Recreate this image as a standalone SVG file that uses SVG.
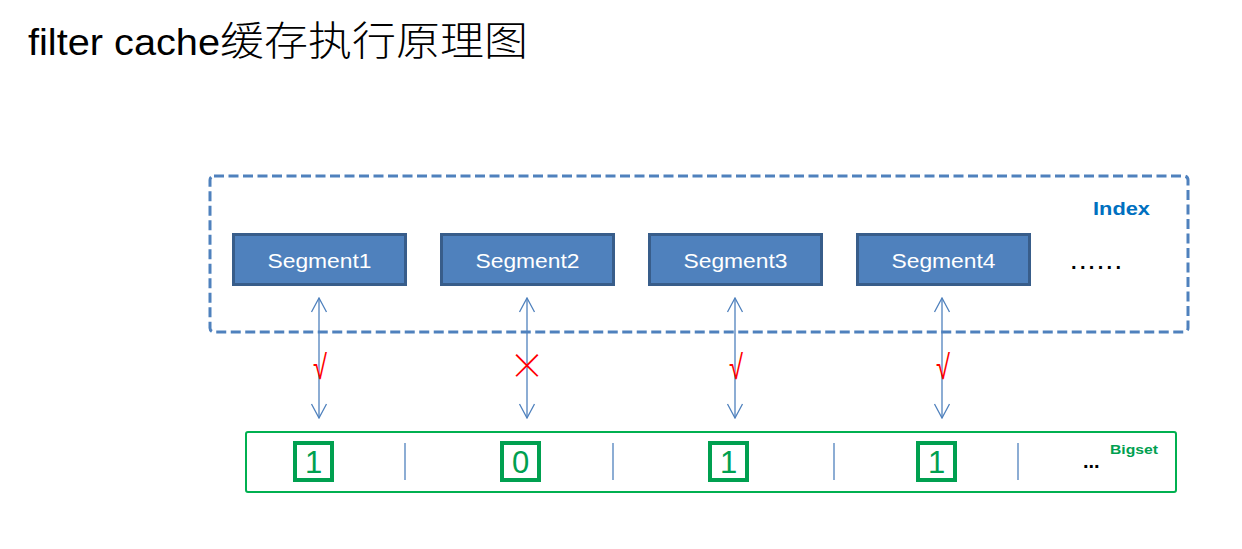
<svg xmlns="http://www.w3.org/2000/svg" width="1242" height="549" viewBox="0 0 1242 549">
<style>
.seg rect{fill:#4f81bd;stroke:#385d8a;stroke-width:3}
.seg text{fill:#fff;font-family:"Liberation Sans",Arial,sans-serif;font-size:20px;text-anchor:middle}
.bit rect{fill:#fff;stroke:#00a050;stroke-width:4}
.bit text{fill:#00a050;font-family:"Liberation Sans",Arial,sans-serif;font-size:31px;text-anchor:middle}
.conn line{stroke:#4f81bd;stroke-width:1.3}
.mark{fill:#ff0000;font-family:"Noto Sans CJK SC","Liberation Sans",sans-serif;text-anchor:middle}
.chk{fill:#ff0000;font-family:"Liberation Sans",Arial,sans-serif;font-size:34px;text-anchor:middle}
.div{stroke:#4f81bd;stroke-width:1.3}
</style>
<defs>
<marker id="ah" viewBox="-15 -9 16 18" refX="0" refY="0" markerWidth="16" markerHeight="18" markerUnits="userSpaceOnUse" orient="auto-start-reverse">
<path d="M-14,-7.5 L0,0 L-14,7.5" fill="none" stroke="#4f81bd" stroke-width="1.3"/>
</marker>
</defs>
<rect width="1242" height="549" fill="#fff"/>
<text id="title" x="28" y="55" font-size="40" fill="#000"><tspan font-family="Liberation Sans,Arial,sans-serif" font-size="37" textLength="192" lengthAdjust="spacingAndGlyphs">filter cache</tspan><tspan font-family="Noto Sans CJK SC,sans-serif" font-size="40" font-weight="300" textLength="308" lengthAdjust="spacingAndGlyphs">缓存执行原理图</tspan></text>
<g id="index">
<rect x="210" y="176" width="978" height="156" rx="4" fill="none" stroke="#4f81bd" stroke-width="3" stroke-dasharray="10 4.5"/>
<text x="1093" y="215" font-family="Liberation Sans,Arial,sans-serif" font-size="19" font-weight="bold" fill="#0070c0" textLength="57" lengthAdjust="spacingAndGlyphs">Index</text>
<text x="1071" y="269" font-family="Liberation Sans,Arial,sans-serif" font-size="20" font-weight="bold" fill="#000" textLength="50" lengthAdjust="spacing">......</text>
</g>
<g id="segment1" class="seg"><rect x="233.5" y="234.5" width="172" height="50"/><text x="319.5" y="268" textLength="104" lengthAdjust="spacingAndGlyphs">Segment1</text></g>
<g id="segment2" class="seg"><rect x="441.5" y="234.5" width="172" height="50"/><text x="527.5" y="268" textLength="104" lengthAdjust="spacingAndGlyphs">Segment2</text></g>
<g id="segment3" class="seg"><rect x="649.5" y="234.5" width="172" height="50"/><text x="735.5" y="268" textLength="104" lengthAdjust="spacingAndGlyphs">Segment3</text></g>
<g id="segment4" class="seg"><rect x="857.5" y="234.5" width="172" height="50"/><text x="943.5" y="268" textLength="104" lengthAdjust="spacingAndGlyphs">Segment4</text></g>
<g id="connectors" class="conn">
<line x1="319" y1="298" x2="319" y2="418" marker-start="url(#ah)" marker-end="url(#ah)"/>
<line x1="527" y1="298" x2="527" y2="418" marker-start="url(#ah)" marker-end="url(#ah)"/>
<line x1="735" y1="298" x2="735" y2="418" marker-start="url(#ah)" marker-end="url(#ah)"/>
<line x1="942" y1="298" x2="942" y2="418" marker-start="url(#ah)" marker-end="url(#ah)"/>
</g>
<g id="marks">
<text class="chk" x="320" y="379" textLength="14" lengthAdjust="spacingAndGlyphs">√</text>
<text class="mark" x="527" y="379" font-size="36" font-weight="200">×</text>
<text class="chk" x="736" y="379" textLength="14" lengthAdjust="spacingAndGlyphs">√</text>
<text class="chk" x="943" y="379" textLength="14" lengthAdjust="spacingAndGlyphs">√</text>
</g>
<g id="bigset">
<rect x="246" y="432" width="930" height="60" rx="2" fill="none" stroke="#00b050" stroke-width="2"/>
<line class="div" x1="405" y1="443" x2="405" y2="480"/>
<line class="div" x1="613" y1="443" x2="613" y2="480"/>
<line class="div" x1="834" y1="443" x2="834" y2="480"/>
<line class="div" x1="1018" y1="443" x2="1018" y2="480"/>
<text x="1083" y="468" font-family="Liberation Sans,Arial,sans-serif" font-size="20" font-weight="bold" fill="#000">...</text>
<text x="1110" y="454" font-family="Liberation Sans,Arial,sans-serif" font-size="13" font-weight="bold" fill="#00a050" textLength="48" lengthAdjust="spacingAndGlyphs">Bigset</text>
</g>
<g id="bit1" class="bit"><rect x="295" y="443" width="37" height="37"/><text x="313.5" y="473">1</text></g>
<g id="bit2" class="bit"><rect x="502" y="443" width="37" height="37"/><text x="520.5" y="473">0</text></g>
<g id="bit3" class="bit"><rect x="710" y="443" width="37" height="37"/><text x="728.5" y="473">1</text></g>
<g id="bit4" class="bit"><rect x="918" y="443" width="37" height="37"/><text x="936.5" y="473">1</text></g>
</svg>
